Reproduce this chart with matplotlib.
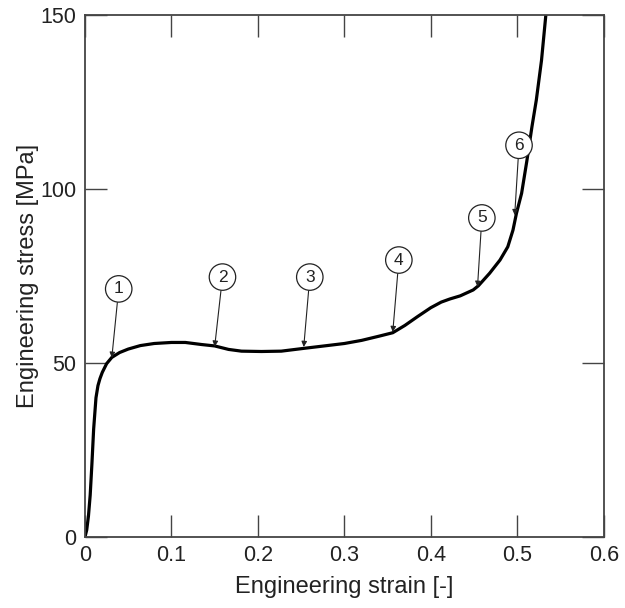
import matplotlib
matplotlib.use('Agg')
import matplotlib.pyplot as plt

plt.rcParams['font.family'] = ['Liberation Sans', 'DejaVu Sans']

# ==== data ====
strain = [0.000, 0.002, 0.004, 0.006, 0.008, 0.010, 0.0127, 0.015, 0.0173, 0.020,
          0.025, 0.031, 0.040, 0.050, 0.064, 0.080, 0.100, 0.116, 0.135, 0.150,
          0.166, 0.181, 0.204, 0.227, 0.253, 0.280, 0.300, 0.320, 0.340, 0.356,
          0.370, 0.385, 0.400, 0.412, 0.422, 0.434, 0.449, 0.455, 0.468, 0.480,
          0.489, 0.495, 0.499, 0.505, 0.511, 0.517, 0.522, 0.528, 0.533, 0.535]
stress = [0.0, 2.0, 6.0, 12.0, 21.0, 31.0, 40.0, 43.5, 45.5, 47.3,
          49.8, 51.6, 53.0, 54.0, 55.0, 55.6, 55.9, 55.9, 55.3, 54.9,
          53.9, 53.4, 53.3, 53.4, 54.2, 55.0, 55.6, 56.5, 57.7, 58.7,
          60.8, 63.4, 65.9, 67.5, 68.4, 69.3, 71.0, 72.2, 75.8, 79.6,
          83.4, 88.2, 93.0, 98.8, 108.0, 118.0, 125.6, 137.0, 150.0, 155.0]

marker_labels = ['1', '2', '3', '4', '5', '6']
tip_strain = [0.031, 0.150, 0.253, 0.356, 0.454, 0.497]
tip_stress = [51.5, 54.7, 54.6, 58.9, 71.9, 92.5]
circ_strain = [0.039, 0.159, 0.260, 0.363, 0.459, 0.502]
circ_stress = [71.3, 74.7, 74.7, 79.6, 91.7, 112.6]

xticks = [0, 0.1, 0.2, 0.3, 0.4, 0.5, 0.6]
xticklabels = ['0', '0.1', '0.2', '0.3', '0.4', '0.5', '0.6']
yticks = [0, 50, 100, 150]

# ==== plot ====
fig = plt.figure(figsize=(6.25, 6.08), dpi=100)
ax = fig.add_axes([0.136, 0.117, 0.830, 0.858])

ax.plot(strain, stress, color='k', linewidth=2.3, solid_capstyle='round')

for lab, tx, ty, cx, cy in zip(marker_labels, tip_strain, tip_stress, circ_strain, circ_stress):
    ax.annotate(lab, xy=(tx, ty), xytext=(cx, cy), ha='center', va='center',
                fontsize=12.5, color='#222222',
                bbox=dict(boxstyle='circle,pad=0.33', fc='white', ec='#222222', lw=0.9),
                arrowprops=dict(arrowstyle='-|>', color='#222222', lw=0.8,
                                mutation_scale=8, shrinkA=0, shrinkB=0))

ax.set_xlim(0, 0.6)
ax.set_ylim(0, 150)
ax.set_xticks(xticks)
ax.set_xticklabels(xticklabels)
ax.set_yticks(yticks)

ax.tick_params(direction='in', length=16, width=1.0, color='#444444',
               labelsize=15.5, labelcolor='#222222', top=True, right=True, pad=6)
for sp in ax.spines.values():
    sp.set_color('#444444')
    sp.set_linewidth(1.3)

ax.set_xlabel('Engineering strain [-]', fontsize=17, color='#222222', labelpad=7)
ax.set_ylabel('Engineering stress [MPa]', fontsize=17, color='#222222', labelpad=1)

fig.savefig('out.png', dpi=100)
